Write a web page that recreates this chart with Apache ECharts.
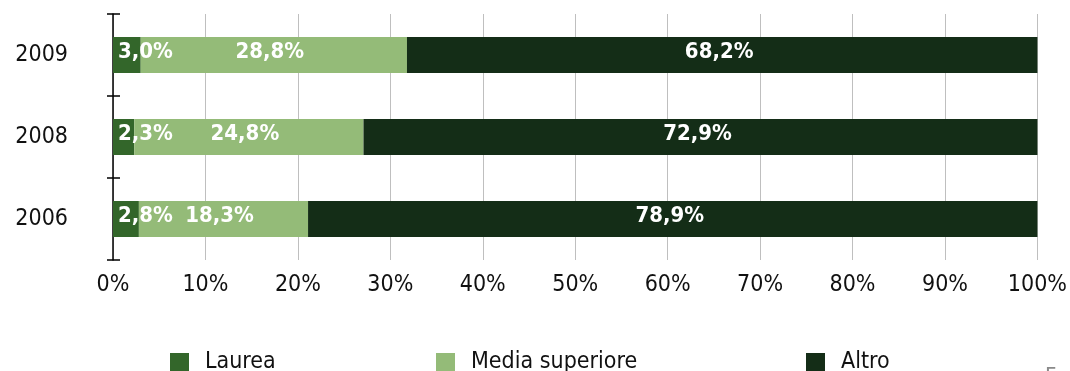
<!DOCTYPE html>
<html>
<head>
<meta charset="utf-8">
<script src="https://cdn.jsdelivr.net/npm/echarts@6/dist/echarts.min.js"></script>
<style>
  html, body { margin: 0; padding: 0; background: #ffffff; }
  #chart { width: 1070px; height: 371px; }
</style>
</head>
<body>
<div id="chart"></div>
<script>
// Titolo di studio per anno (quote percentuali, barre impilate al 100%)
const years = ['2009', '2008', '2006'];
const laurea = [3.0, 2.3, 2.8];
const mediaSuperiore = [28.8, 24.8, 18.3];
const altro = [68.2, 72.9, 78.9];
const seriesNames = ['Laurea', 'Media superiore', 'Altro'];
const xTicks = [0, 100, 10]; // min, max, interval

const FONT = '"DejaVu Sans Condensed", "Liberation Sans", sans-serif';
const colors = ['#33662a', '#94bb78', '#142d17'];

const fmt = p => p.value.toFixed(1).replace('.', ',') + '%';

const labelBase = {
  show: true,
  color: '#ffffff',
  fontFamily: FONT,
  fontWeight: 'bold',
  fontSize: 22,
  formatter: fmt
};

function barSeries(name, data, color, label) {
  return {
    name: name,
    type: 'bar',
    stack: 'tot',
    data: data,
    barWidth: 36,
    itemStyle: { color: color },
    label: Object.assign({}, labelBase, label),
    emphasis: { disabled: true }
  };
}

function legendAt(name, left) {
  return {
    data: [name],
    left: left,
    top: 351,
    padding: 0,
    itemWidth: 19,
    itemHeight: 19,
    icon: 'rect',
    selectedMode: false,
    textStyle: { fontFamily: FONT, fontSize: 23, lineHeight: 19, color: '#111111', padding: [0, 0, 0, 11] }
  };
}

const chart = echarts.init(document.getElementById('chart'), null, { renderer: 'canvas' });

chart.setOption({
  animation: false,
  backgroundColor: '#ffffff',
  grid: { left: 113, right: 32, top: 14, bottom: 111 },
  xAxis: {
    type: 'value',
    min: xTicks[0],
    max: xTicks[1],
    interval: xTicks[2],
    axisLine: { show: false },
    axisTick: { show: false },
    splitLine: { show: true, lineStyle: { color: '#bfbfbf', width: 1 } },
    axisLabel: {
      formatter: '{value}%',
      fontFamily: FONT,
      fontSize: 23,
      color: '#111111',
      margin: 14
    }
  },
  yAxis: [
    {
      type: 'category',
      data: years,
      inverse: true,
      axisLine: { show: true, lineStyle: { color: '#000000', width: 1.5 } },
      axisTick: { show: true, length: 6, lineStyle: { color: '#000000', width: 1.5 } },
      axisLabel: { fontFamily: FONT, fontSize: 23, color: '#111111', margin: 45, padding: [0, 0, 6, 0] }
    },
    {
      type: 'category',
      data: years,
      inverse: true,
      position: 'left',
      axisLine: { show: false },
      axisTick: { show: true, inside: true, length: 7, lineStyle: { color: '#000000', width: 1.5 } },
      axisLabel: { show: false }
    }
  ],
  legend: [
    legendAt(seriesNames[0], 170),
    legendAt(seriesNames[1], 436),
    legendAt(seriesNames[2], 806)
  ],
  series: [
    barSeries(seriesNames[0], laurea, colors[0], { position: 'insideLeft', distance: 5, offset: [0, -3] }),
    barSeries(seriesNames[1], mediaSuperiore, colors[1], { position: 'inside', offset: [-4, -3] }),
    barSeries(seriesNames[2], altro, colors[2], { position: 'inside', offset: [-3, -3] })
  ],
  graphic: [
    {
      type: 'text',
      left: 1045,
      top: 366,
      style: { text: 'Fo', fill: '#8a8a8a', font: '22px ' + FONT }
    }
  ]
});
</script>
</body>
</html>
